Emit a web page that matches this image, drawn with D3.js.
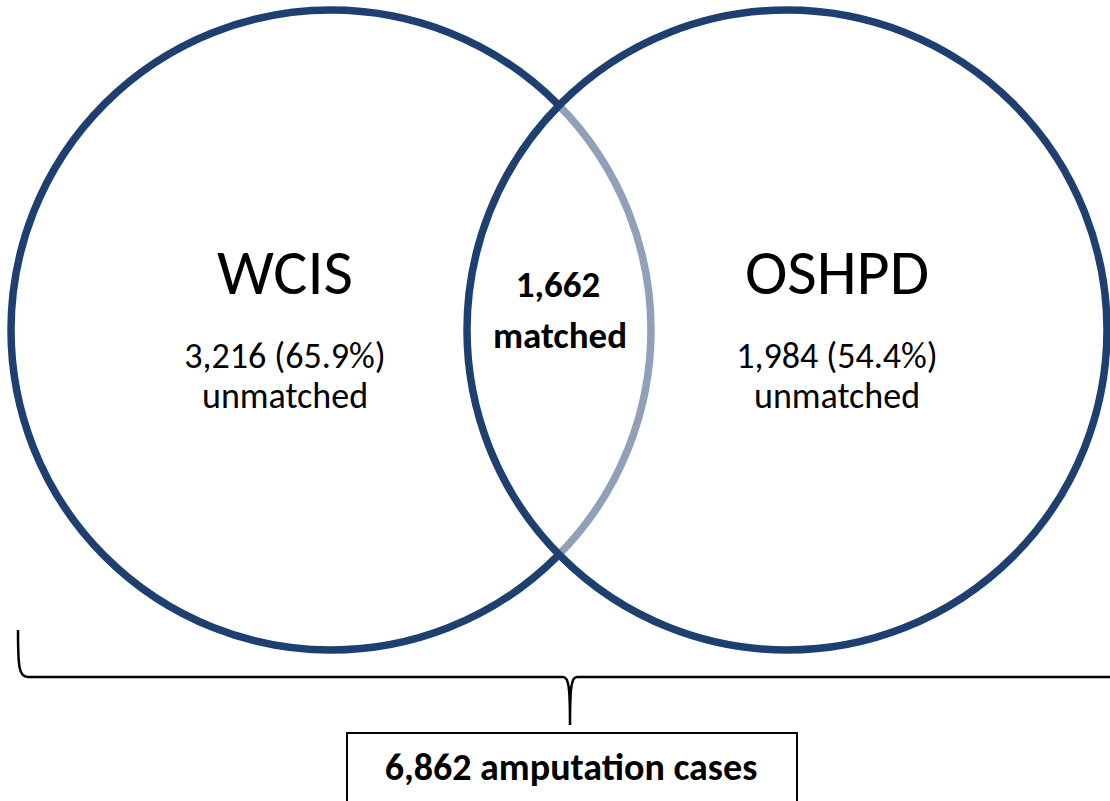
<!DOCTYPE html>
<html>
<head>
<meta charset="utf-8">
<script src="https://cdn.jsdelivr.net/npm/d3@7"></script>
<style>
  body { margin: 0; background: #fff; }
  svg { display: block; }
  text { font-family: Carlito, Calibri, "Open Sans", sans-serif; fill: #000; }
</style>
</head>
<body>
<div id="chart"></div>
<script>
// Venn diagram: record linkage WCIS vs OSHPD
var sets = ["WCIS", "OSHPD"];
var unmatched = [3216, 1984];
var unmatchedPct = [65.9, 54.4];
var matched = 1662;
var totalCases = 6862;

const W = 1110, H = 801;
const navy = "#1e4070";
const r = 320;        // circle radius
const cy = 330;

var fmt = d3.format(",");

// circle centres along x
var xScale = d3.scalePoint()
    .domain(sets)
    .range([331, 787]);

// where the labels sit inside each circle
var labelX = d3.scaleOrdinal()
    .domain(sets)
    .range([285, 837]);

var svg = d3.select("#chart").append("svg")
    .attr("width", W)
    .attr("height", H);

// left circle first, right one on top with half-white fill (fades the left arc)
svg.selectAll("circle.set")
    .data(sets)
    .enter().append("circle")
    .attr("class", "set")
    .attr("cx", function(d) { return xScale(d); })
    .attr("cy", cy)
    .attr("r", r)
    .attr("fill", function(d, i) { return i === 0 ? "none" : "#fff"; })
    .attr("fill-opacity", 0.5)
    .attr("stroke", navy)
    .attr("stroke-width", 7.5);

var labels = svg.selectAll("g.label")
    .data(sets)
    .enter().append("g")
    .attr("class", "label")
    .attr("transform", function(d) { return "translate(" + labelX(d) + ",0)"; })
    .attr("text-anchor", "middle");

labels.append("text")
    .attr("y", 294)
    .style("font-size", "64px")
    .text(function(d) { return d; });

labels.append("text")
    .attr("y", 368)
    .style("font-size", "36px")
    .text(function(d, i) { return fmt(unmatched[i]) + " (" + unmatchedPct[i].toFixed(1) + "%)"; });

labels.append("text")
    .attr("y", 408)
    .style("font-size", "36px")
    .text("unmatched");

// overlap
var midX = (xScale(sets[0]) + xScale(sets[1])) / 2;
var mid = svg.append("g").attr("text-anchor", "middle");
mid.append("text")
    .attr("x", midX - 1)
    .attr("y", 297)
    .style("font-size", "37px")
    .style("font-weight", "bold")
    .text(fmt(matched));
mid.append("text")
    .attr("x", midX + 1)
    .attr("y", 348)
    .style("font-size", "37px")
    .style("font-weight", "bold")
    .text("matched");

// curly bracket under both circles
var bx = 570, by = 677;
svg.append("path")
    .attr("d", "M18,630 C18,668 19,677 28,677 L" + (bx - 7) + "," + by +
               " C" + (bx - 1) + "," + by + " " + bx + "," + (by + 12) + " " + bx + ",725" +
               " C" + bx + "," + (by + 12) + " " + (bx + 1) + "," + by + " " + (bx + 7) + "," + by +
               " L" + (W + 10) + "," + by)
    .attr("fill", "none")
    .attr("stroke", "#000")
    .attr("stroke-width", 2.5);

// total box
svg.append("rect")
    .attr("x", 347)
    .attr("y", 733)
    .attr("width", 450)
    .attr("height", 100)
    .attr("fill", "#fff")
    .attr("stroke", "#000")
    .attr("stroke-width", 2);

svg.append("text")
    .attr("x", 571)
    .attr("y", 780)
    .attr("text-anchor", "middle")
    .style("font-size", "38px")
    .style("font-weight", "bold")
    .text(fmt(totalCases) + " amputation cases");
</script>
</body>
</html>
